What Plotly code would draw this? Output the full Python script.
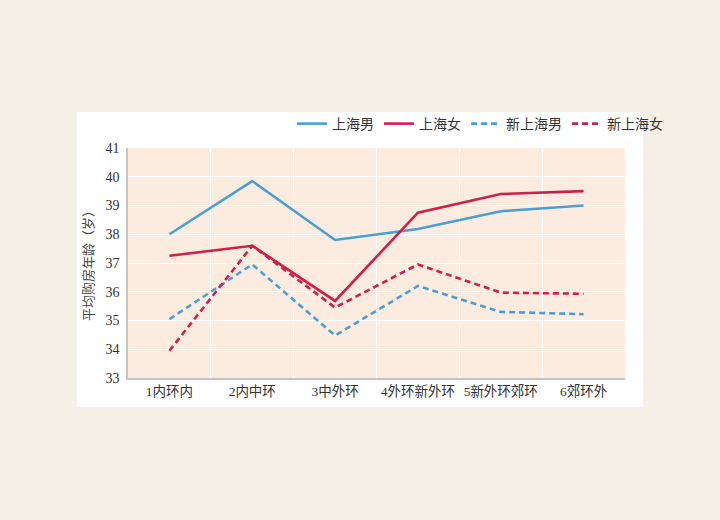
import plotly.graph_objects as go

categories = ["1内环内", "2内中环", "3中外环", "4外环新外环", "5新外环郊环", "6郊环外"]
sh_male = [38.0, 39.85, 37.8, 38.18, 38.8, 39.0]
sh_female = [37.25, 37.6, 35.68, 38.75, 39.4, 39.5]
new_male = [35.05, 36.95, 34.48, 36.2, 35.3, 35.22]
new_female = [33.95, 37.6, 35.45, 36.95, 35.97, 35.93]
y_ticks = [33, 34, 35, 36, 37, 38, 39, 40, 41]

BLUE = "#4aa0d5"
RED = "#d01f4c"
FONT = "Liberation Serif, Noto Sans CJK SC"

fig = go.Figure()
series = [
    ("上海男", sh_male, BLUE, "solid"),
    ("上海女", sh_female, RED, "solid"),
    ("新上海男", new_male, BLUE, "6px,4px"),
    ("新上海女", new_female, RED, "6px,4px"),
]
for name, vals, col, dash in series:
    fig.add_trace(go.Scatter(x=categories, y=vals, name=name, mode="lines",
                             line=dict(color=col, width=2.6, dash=dash)))

L, R, T, B = 128, 95, 148, 142
W, H = 720 - L - R, 520 - T - B
fig.update_layout(
    width=720, height=520,
    margin=dict(l=L, r=R, t=T, b=B),
    paper_bgcolor="#f5f0e6",
    plot_bgcolor="rgba(0,0,0,0)",
    font=dict(family=FONT, size=13, color="#333333"),
    showlegend=True,
    legend=dict(orientation="h", x=(668 - L) / W, xanchor="right",
                y=(T + H - 124) / H, yanchor="middle",
                bgcolor="rgba(0,0,0,0)", font=dict(size=14, color="#333333"),
                itemwidth=30, tracegroupgap=0),
    xaxis=dict(type="category", tickson="boundaries", showgrid=True,
               gridcolor="#ffffff", gridwidth=1, ticks="", showline=True,
               linecolor="#c4c4c4", linewidth=1.5, range=[-0.5, 5.5],
               tickangle=0,
               tickfont=dict(size=13.5, color="#333333"), zeroline=False),
    yaxis=dict(range=[33, 41], tickvals=y_ticks, showgrid=True,
               gridcolor="#ffffff", gridwidth=1, ticks="", showline=True,
               linecolor="#c4c4c4", linewidth=1.5, zeroline=False,
               tickfont=dict(size=14, color="#333333"), ticklabelstandoff=4),
    shapes=[
        dict(type="rect", xref="paper", yref="paper", layer="below",
             x0=(77 - L) / W, x1=(643 - L) / W,
             y0=(T + H - 407) / H, y1=(T + H - 112) / H,
             fillcolor="#ffffff", line=dict(width=0)),
        dict(type="rect", xref="paper", yref="paper", layer="below",
             x0=0, x1=1, y0=0, y1=1,
             fillcolor="#fcebdf", line=dict(width=0)),
    ],
    annotations=[
        dict(text="平均购房年龄（岁）", xref="paper", yref="paper",
             x=(88 - L) / W, y=0.5, textangle=-90, showarrow=False,
             font=dict(size=13, color="#444444"), xanchor="center", yanchor="middle"),
    ],
)

fig.write_html("out.html")
